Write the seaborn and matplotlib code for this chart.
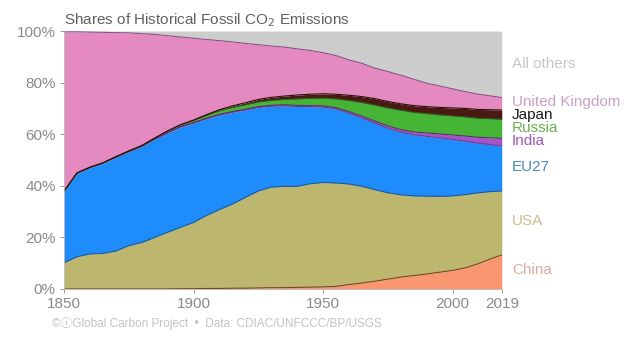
import numpy as np
import pandas as pd
import matplotlib
matplotlib.use("Agg")
import matplotlib.pyplot as plt
import seaborn as sns
from matplotlib.colors import to_rgb

years = [1850, 1855, 1860, 1865, 1870, 1875, 1880, 1885, 1890, 1895,
         1900, 1905, 1910, 1915, 1920, 1925, 1930, 1935, 1940, 1945,
         1950, 1955, 1960, 1965, 1970, 1975, 1980, 1985, 1990, 1995,
         2000, 2005, 2010, 2015, 2019]

# Cumulative share of historical fossil CO2 emissions (%), bottom to top
china = [0.0, 0.0, 0.0, 0.0, 0.0, 0.0, 0.0, 0.0, 0.0, 0.1,
         0.1, 0.2, 0.2, 0.3, 0.3, 0.4, 0.5, 0.5, 0.6, 0.7,
         0.8, 1.0, 1.7, 2.3, 3.0, 3.8, 4.6, 5.2, 5.8, 6.5,
         7.2, 8.2, 9.8, 11.8, 13.2]
usa = [10.2, 12.5, 13.6, 13.8, 14.7, 16.8, 18.0, 20.0, 22.0, 23.8,
       25.7, 28.3, 30.6, 32.6, 35.2, 37.6, 39.0, 39.3, 39.2, 40.1,
       40.5, 40.1, 39.0, 37.5, 35.5, 33.5, 31.9, 30.9, 30.2, 29.4,
       28.9, 28.4, 27.5, 26.0, 24.8]
eu27 = [27.5, 32.3, 33.4, 34.9, 36.3, 36.4, 37.2, 38.0, 38.5, 38.9,
        38.5, 37.5, 36.6, 35.6, 33.9, 32.4, 31.4, 31.2, 31.0, 29.9,
        29.2, 28.7, 27.5, 26.5, 25.8, 25.0, 24.3, 23.7, 23.2, 22.7,
        21.9, 20.7, 19.2, 18.1, 17.4]
india = [0.1, 0.1, 0.1, 0.1, 0.1, 0.1, 0.1, 0.1, 0.2, 0.2,
         0.2, 0.2, 0.3, 0.3, 0.3, 0.3, 0.3, 0.4, 0.4, 0.4,
         0.5, 0.5, 0.6, 0.7, 0.8, 0.9, 1.0, 1.1, 1.3, 1.5,
         1.7, 2.0, 2.3, 2.7, 3.0]
russia = [0.1, 0.1, 0.1, 0.1, 0.2, 0.2, 0.3, 0.4, 0.5, 0.6,
          0.8, 1.1, 1.4, 1.6, 1.7, 1.8, 1.9, 2.1, 2.5, 2.8,
          3.0, 3.4, 4.3, 5.3, 6.2, 7.0, 7.5, 7.6, 7.5, 7.4,
          7.4, 7.4, 7.4, 7.4, 7.4]
japan = [0.0, 0.0, 0.0, 0.0, 0.0, 0.0, 0.0, 0.0, 0.1, 0.1,
         0.2, 0.3, 0.4, 0.6, 0.8, 1.0, 1.2, 1.3, 1.5, 1.6,
         1.7, 1.8, 2.0, 2.3, 2.5, 2.5, 2.5, 2.6, 2.7, 2.9,
         3.1, 3.3, 3.4, 3.5, 3.6]
uk = [61.8, 54.7, 52.4, 50.6, 48.1, 45.8, 43.4, 40.2, 36.9, 34.0,
      31.7, 29.1, 26.8, 24.8, 23.0, 21.2, 19.9, 19.0, 17.9, 17.0,
      15.9, 15.0, 13.7, 12.9, 11.8, 11.6, 11.1, 10.2, 9.1, 8.3,
      7.4, 6.5, 5.9, 5.3, 4.8]
others = [0.3, 0.3, 0.4, 0.5, 0.6, 0.7, 1.0, 1.3, 1.8, 2.3,
          2.8, 3.3, 3.7, 4.2, 4.8, 5.3, 5.8, 6.2, 6.9, 7.5,
          8.4, 9.5, 11.2, 12.5, 14.4, 15.7, 17.1, 18.7, 20.2, 21.3,
          22.4, 23.5, 24.5, 25.2, 25.8]

names = ["China", "USA", "EU27", "India", "Russia", "Japan",
         "United Kingdom", "All others"]
fill_colors = ["#F8966F", "#BDB66F", "#1E8CFA", "#A453C9", "#46B535",
               "#4A1A12", "#E589C1", "#CDCDCD"]
label_colors = ["#DDAAA2", "#C7C08E", "#4A8CBE", "#9C5CB4", "#6CB150",
                "#1A1A1A", "#CBA0C6", "#C6C6C6"]
label_y = [7.4, 26.4, 47.3, 57.4, 62.4, 67.4, 72.5, 87.2]
x_ticks = [1850, 1900, 1950, 2000, 2019]
y_ticks = [0, 20, 40, 60, 80, 100]

series = [china, usa, eu27, india, russia, japan, uk, others]
df = pd.DataFrame({n: v for n, v in zip(names, series)}, index=years)
tops = df.cumsum(axis=1)

sns.set_theme(style="white")
plt.rcParams["font.family"] = ["Liberation Sans", "DejaVu Sans"]

fig = plt.figure(figsize=(6.4, 3.49), dpi=100)
ax = fig.add_axes([0.1, 0.172, 0.684, 0.739])

ax.stackplot(df.index, [df[n] for n in names], colors=fill_colors,
             linewidth=0)

# Thin darker boundary on top of each band
edge = pd.DataFrame({
    "year": np.tile(df.index, len(names) - 1),
    "top": np.concatenate([tops[n].values for n in names[:-1]]),
    "band": np.repeat(names[:-1], len(df.index)),
})
edge_pal = {n: tuple(0.55 * c for c in to_rgb(fc))
            for n, fc in zip(names, fill_colors)}
edge_pal["EU27"] = "#6A3F9A"
edge_pal["United Kingdom"] = "#8E4E86"
edge_pal["USA"] = "#245A8A"
edge_pal["China"] = "#7A4422"
sns.lineplot(data=edge, x="year", y="top", hue="band", palette=edge_pal,
             linewidth=0.8, legend=False, ax=ax)

ax.set_xlim(1850, 2019)
ax.set_ylim(0, 100)
ax.set_xticks(x_ticks)
ax.set_xticklabels([str(t) for t in x_ticks])
ax.set_yticks(y_ticks)
ax.set_yticklabels([f"{t}%" for t in y_ticks])
ax.set_xlabel("")
ax.set_ylabel("")
ax.tick_params(axis="both", labelsize=11, colors="#8A8A8A", length=3,
               width=0.6, direction="out", bottom=True, left=True, pad=3)
for s in ["top", "right"]:
    ax.spines[s].set_visible(False)
for s in ["left", "bottom"]:
    ax.spines[s].set_color("#BBBBBB")
    ax.spines[s].set_linewidth(0.6)

for n, c, yv in zip(names, label_colors, label_y):
    ax.text(2023, yv, n, color=c, fontsize=11, va="center", ha="left",
            clip_on=False)

fig.text(0.1, 0.942, "Shares of Historical Fossil CO$_2$ Emissions",
         fontsize=11, color="#606060", ha="left", va="center")
fig.text(0.082, 0.072,
         "\u00a9\u24d8Global Carbon Project  \u2022  Data: CDIAC/UNFCCC/BP/USGS",
         fontsize=8.5, color="#C2C2C2", ha="left", va="center",
         family=["Liberation Sans", "DejaVu Sans", "Noto Sans CJK JP"])

fig.savefig("out.png", dpi=100, facecolor="white")
